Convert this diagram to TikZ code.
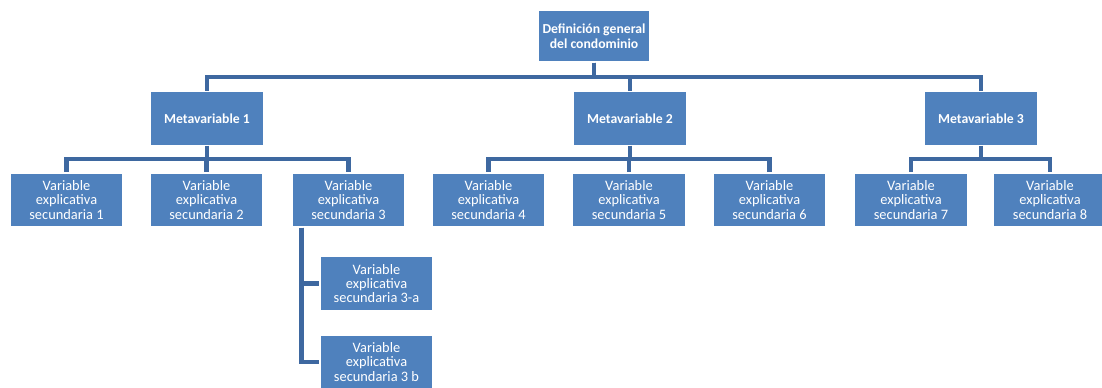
\documentclass[tikz,border=0pt]{standalone}
\usepackage{fontspec}
\setmainfont{Carlito}
\usetikzlibrary{calc}
\definecolor{boxblue}{RGB}{79,129,189}
\definecolor{lineblue}{RGB}{62,104,160}

\begin{document}
\begin{tikzpicture}[x=0.02cm,y=-0.02cm]


\tikzstyle{box}=[rectangle,draw=white,line width=0.6pt,fill=boxblue,text=white,align=center,
  minimum width=2.26cm,minimum height=1.07cm,inner sep=1pt,font=\fontsize{8.2}{8.1}\selectfont]
\tikzstyle{head}=[box,font=\fontsize{7.8}{8.8}\selectfont\bfseries]
\tikzstyle{link}=[lineblue,line width=2.3pt]
\clip (0,0) rectangle (1102,387);
\fill[white] (0,0) rectangle (1102,387);
  \node[head,minimum width=2.24cm,minimum height=1.04cm] (root) at (594,36) {Definición general\\del condominio};
  \foreach \name/\x/\text in {M-1/207/1, M-2/630/2, M-3/981/3}
    \node[head] (\name) at (\x,118.5) {Metavariable \text};
  \foreach \name/\x/\text in {V-1/66.5/1, V-2/206.5/2, V-3/348.5/3, V-4/488.5/4,
      V-5/629/5, V-6/769.5/6, V-7/911/7, V-8/1050/8}
    \node[box,minimum height=1.08cm] (\name) at (\x,200) {Variable\\explicativa\\secundaria \text};
  \node[box] (V-3a) at (376.5,283.5) {Variable\\explicativa\\secundaria 3-a};
  \node[box] (V-3b) at (376.5,362) {Variable\\explicativa\\secundaria 3 b};
  \foreach \to in {1,2,3}
    { \draw[link] (root.south) |- ($(root.south)!0.5!(M-\to.north)$) -| (M-\to.north); }
  \foreach \from/\to in {1/1,1/2,1/3,2/4,2/5,2/6,3/7,3/8}
    { \draw[link] (M-\from.south) |- ($(M-\from.south)!0.5!(V-\to.north)$) -| (V-\to.north); }
  \foreach \to in {3a,3b}
    { \draw[link] ($(V-3.south west)+(10,0)$) |- (V-\to.west); }

        \end{tikzpicture}
\end{document}
